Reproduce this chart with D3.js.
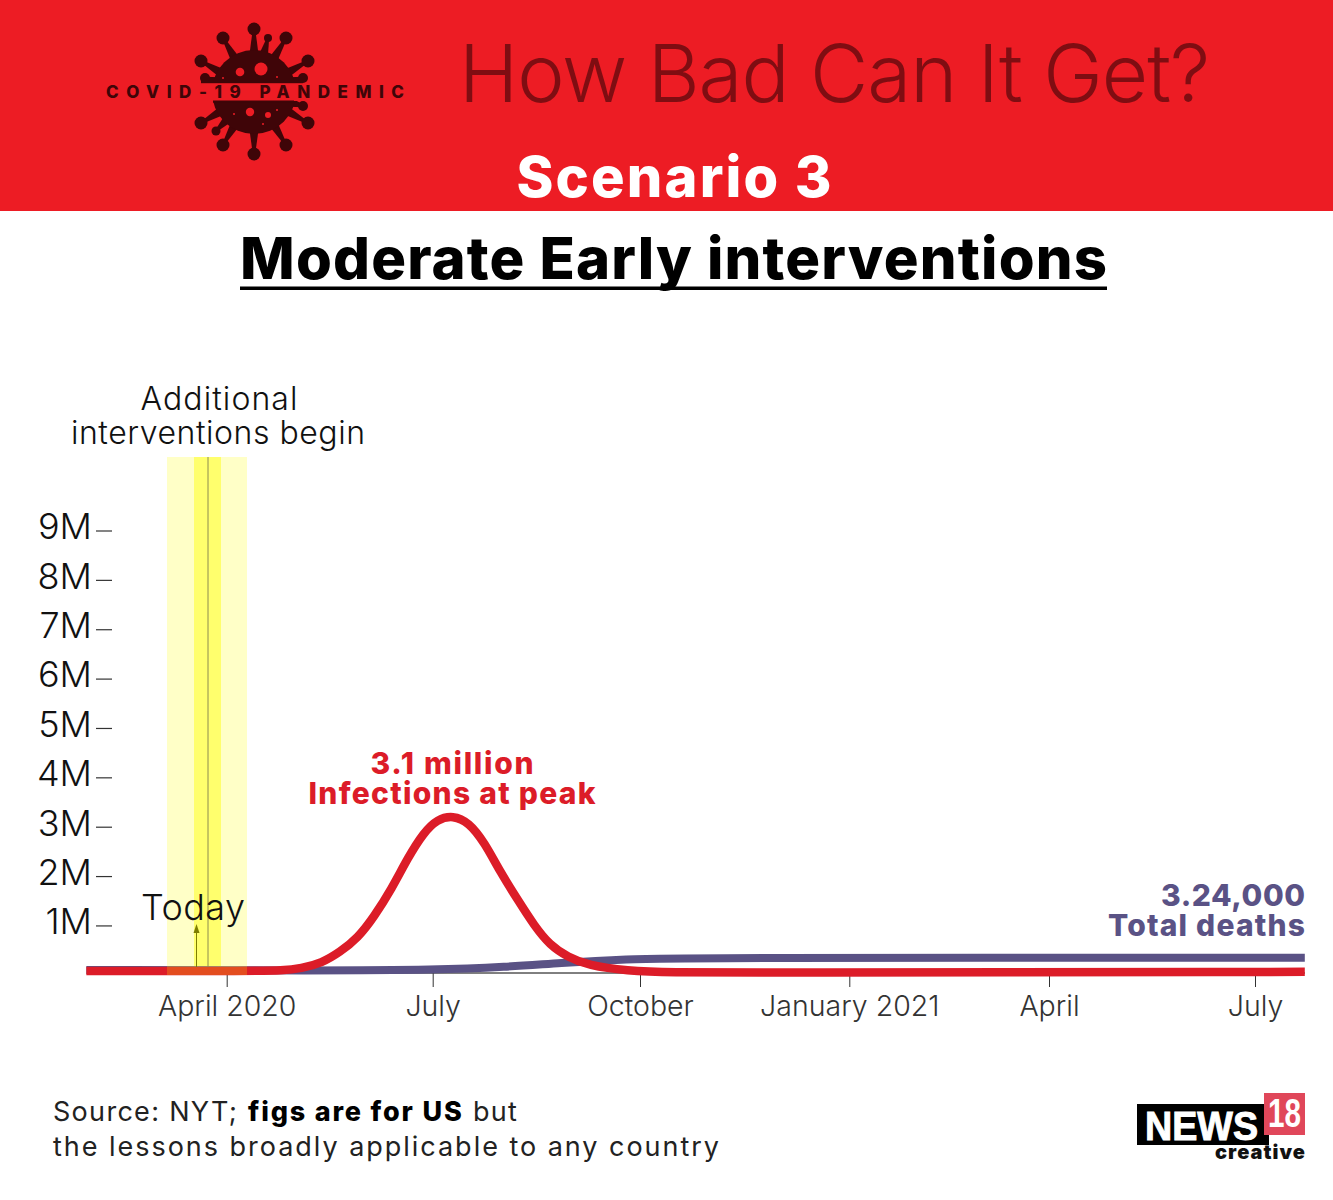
<!DOCTYPE html>
<html><head><meta charset="utf-8">
<script src="https://cdn.jsdelivr.net/npm/d3@7"></script>
<style>html,body{margin:0;padding:0;background:#fff}svg{display:block}text{font-family:Inter,Lato,sans-serif;font-variant-ligatures:none}</style>
</head><body><svg id="c" width="1333" height="1200"></svg>
<script>
const infectionDates=["2020-01-30","2020-04-15","2020-04-25","2020-05-04","2020-05-13","2020-05-21","2020-05-29","2020-06-05","2020-06-13","2020-06-20","2020-06-27","2020-07-03","2020-07-10","2020-07-17","2020-07-24","2020-07-31","2020-08-08","2020-08-15","2020-08-22","2020-08-30","2020-09-08","2020-09-25","2020-10-15","2020-11-15","2021-07-23"];
const infectionValues=[0.077,0.077,0.085,0.13,0.24,0.46,0.75,1.17,1.75,2.37,2.88,3.15,3.23,3.09,2.68,2.08,1.5,1.0,0.6,0.36,0.19,0.08,0.045,0.043,0.06];
const deathDates=["2020-01-30","2020-05-15","2020-07-02","2020-08-03","2020-08-26","2020-09-25","2020-10-24","2021-07-23"];
const deathValues=[0.097,0.085,0.097,0.16,0.24,0.32,0.347,0.347];
const yTicks=[1,2,3,4,5,6,7,8,9];
const xTicks=["2020-04-01","2020-07-01","2020-10-01","2021-01-01","2021-04-01","2021-07-01"];
const xTickLabels=["April 2020","July","October","January 2021","April","July"];
const spikes=[[254,29,6.5],[223,38,6.5],[268,38,4],[286,38,6.5],[201,61,6.5],[308,61,6.5],[205,78,5],[303,78,5],[303,106,5],[201,123,6.5],[308,123,6.5],[216,131,4.5],[223,145,6.5],[286,145,6.5],[254,154,6.5]];
const holes=[[261,69,6.5],[240,72,4.3],[250,112,4.2],[268,115,3],[223,78,1],[277,77,1],[234,114,1],[277,110,1],[263,124,1]];

const parse=d3.utcParse("%Y-%m-%d");
const svg=d3.select("#c");
const x=d3.scaleUtc().domain(xTicks.map(parse)).range([226.7,432.7,640,849.3,1049,1255]);
const y=d3.scaleLinear().domain([0,9]).range([974.8,530.5]);
const RED="#ed1c24",DARK="#3f0508";

svg.append("rect").attr("width",1333).attr("height",211).attr("fill",RED);
// virus logo
const logo=svg.append("g");
const wedge=d=>{const cx=254,cy=92,dx=d[0]-cx,dy=d[1]-cy,l=Math.hypot(dx,dy),ux=dx/l,uy=dy/l,px=-uy,py=ux,b=38;
 return `M${cx+ux*b+px*4.5},${cy+uy*b+py*4.5}L${d[0]+px*1.2},${d[1]+py*1.2}L${d[0]-px*1.2},${d[1]-py*1.2}L${cx+ux*b-px*4.5},${cy+uy*b-py*4.5}Z`;};
logo.append("g").selectAll("path").data(spikes).join("path").attr("d",wedge).attr("fill",DARK);
logo.append("g").selectAll("circle").data(spikes).join("circle")
 .attr("cx",d=>d[0]).attr("cy",d=>d[1]).attr("r",d=>d[2]).attr("fill",DARK);
logo.append("circle").attr("cx",254).attr("cy",92).attr("r",42).attr("fill",DARK);
logo.append("g").selectAll("circle").data(holes).join("circle")
 .attr("cx",d=>d[0]).attr("cy",d=>d[1]).attr("r",d=>d[2]).attr("fill",RED);
logo.append("rect").attr("x",190).attr("y",83).attr("width",130).attr("height",18).attr("fill",RED);
logo.append("rect").attr("x",201).attr("y",81).attr("width",102).attr("height",2.2).attr("fill",DARK);
logo.append("rect").attr("x",213).attr("y",100.5).attr("width",81).attr("height",2.2).attr("fill",DARK);
const T=(s,px,py,size,weight,fill,anchor,len)=>{const t=svg.append("text").attr("x",px).attr("y",py).attr("font-size",size).attr("font-weight",weight).attr("fill",fill).attr("text-anchor",anchor||"start").text(s);if(len)t.attr("textLength",len);return t;};
T("COVID-19 PANDEMIC",106,98,17,800,DARK,"start",298);
T("How Bad Can It Get?",459,102,80,300,"#7f0d12","start",751);
T("Scenario 3",674,197,56,800,"#fff","middle",315);
T("Moderate Early interventions",240,279,58,800,"#000","start",867);
svg.append("rect").attr("x",240).attr("y",286.5).attr("width",867).attr("height",3.5).attr("fill","#000");

// axes
const gx=svg.append("g").attr("transform","translate(0,973)").call(
 d3.axisBottom(x).tickValues(xTicks.map(parse)).tickSize(14).tickPadding(8.5).tickFormat((d,i)=>xTickLabels[i]));
gx.select(".domain").attr("stroke","#000").attr("d","M88,0H1305");
gx.selectAll("line").attr("stroke","#333");
gx.selectAll("text").attr("font-size",28.5).attr("font-weight",300).attr("fill","#333").style("font-family","Inter");
const gy=svg.append("g").attr("transform","translate(112,0)").call(
 d3.axisLeft(y).tickValues(yTicks).tickSize(16).tickPadding(4).tickFormat(d=>d+"M"));
gy.select(".domain").remove();
gy.selectAll("line").attr("stroke","#333").attr("stroke-width",1.2);
gy.selectAll("text").attr("font-size",36).attr("font-weight",300).attr("fill","#111").attr("dy","8.3").style("font-family","Inter");

// lines
const line=d3.line().x(d=>x(d[0])).y(d=>y(d[1])).curve(d3.curveBasis);
svg.append("path").datum(deathDates.map((d,i)=>[parse(d),deathValues[i]])).attr("d",line).attr("fill","none").attr("stroke","#5a5285").attr("stroke-width",8);
svg.append("path").datum(infectionDates.map((d,i)=>[parse(d),infectionValues[i]])).attr("d",line).attr("fill","none").attr("stroke","#dc1c28").attr("stroke-width",8.5);

// bands
svg.append("rect").attr("x",167).attr("y",457).attr("width",80).attr("height",518).attr("fill","#ffff00").attr("opacity",0.22);
svg.append("rect").attr("x",194).attr("y",457).attr("width",27).attr("height",509).attr("fill","#ffff00").attr("opacity",0.45);
svg.append("line").attr("x1",208).attr("x2",208).attr("y1",457).attr("y2",967).attr("stroke","#8c8c50").attr("stroke-width",1);
svg.append("line").attr("x1",196.5).attr("x2",196.5).attr("y1",932).attr("y2",967).attr("stroke","#7d7d00").attr("stroke-width",1);
svg.append("path").attr("d","M196.5,924l-3,9h6z").attr("fill","#7d7d00");
T("Today",141,920,36,300,"#111","start",104);
T("Additional",219,410,32,300,"#111","middle",157);
T("interventions begin",218,444,32,300,"#111","middle",294);

T("3.1 million",452,774,30,800,"#dc1c28","middle",163);
T("Infections at peak",452,804,30,800,"#dc1c28","middle",287);
T("3.24,000",1305,906,30,800,"#5a5285","end",144);
T("Total deaths",1305,936,30,800,"#5a5285","end",197);

const src=svg.append("text").attr("x",53).attr("y",1121).attr("font-size",27).attr("font-weight",400).attr("fill","#222").attr("letter-spacing",1.3);
src.append("tspan").text("Source: NYT; ");
src.append("tspan").attr("x",248).attr("font-weight",800).attr("fill","#000").attr("textLength",215).text("figs are for US");
src.append("tspan").attr("x",473).text("but");
T("the lessons broadly applicable to any country",53,1156,27,400,"#222","start",666);

// brand
svg.append("rect").attr("x",1137).attr("y",1104).attr("width",132).attr("height",41).attr("fill","#000");
svg.append("rect").attr("x",1264).attr("y",1093).attr("width",41).attr("height",42).attr("fill","#e0475a");
T("NEWS",1145,1140,41,700,"#fff","start",113).attr("lengthAdjust","spacingAndGlyphs").style("font-family","Liberation Sans").attr("stroke","#fff").attr("stroke-width",1);
T("18",1268,1127,40,700,"#fff","start",33).attr("lengthAdjust","spacingAndGlyphs").style("font-family","Liberation Sans");
T("creative",1215,1159,20,900,"#111","start",90);
</script></body></html>
